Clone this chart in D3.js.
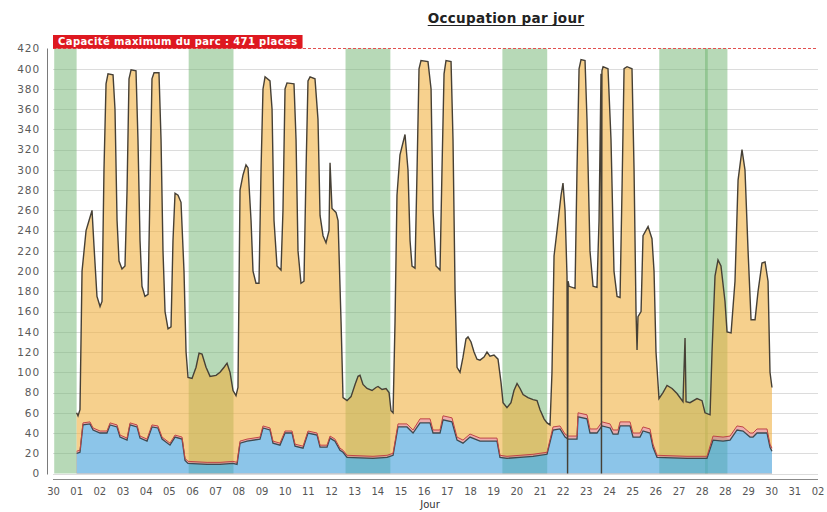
<!DOCTYPE html>
<html><head><meta charset="utf-8">
<script src="https://cdn.jsdelivr.net/npm/d3@7"></script>
<style>body{margin:0;background:#fff}svg{display:block}</style>
</head><body>
<svg id="chart" width="827" height="512"></svg>
<script>
// ---------- data ----------
const title = "Occupation par jour";
const xAxisTitle = "Jour";
const capacity = 471;
const capacityLabel = "Capacité maximum du parc : 471 places";
const xTickLabels = ["30","01","02","03","04","05","06","07","08","09","10","11","12","13","14","15","16","17","18","19","20","21","22","23","24","25","26","27","28","28","29","30","31","02"];
const yTickValues = [0,20,40,60,80,100,120,140,160,180,200,220,240,260,280,300,320,340,360,380,400,420];
const startTime = "2012-09-30T00:00:00+02:00"; // hours below are elapsed hours since this instant

// total occupancy (top of orange area)
const totalHours = [24,25.5,27.6,29.8,34.1,37.3,40.5,42.6,45.8,49.1,51.2,53.3,55.5,57.6,63,65.1,67.3,69.4,72.6,75.8,78,80.1,82.3,87.6,89.7,91.9,94,97.2,100.5,102.6,104.7,106.9,112.2,114.4,116.5,118.7,121.9,125.1,127.2,129.4,132.6,135.8,139,141.2,143.3,147.6,151.9,155.1,158.3,162.6,166.9,173.3,177.6,181.9,185.1,188.3,191.5,194.7,196.8,199,202.2,205.4,207.6,210.8,212.9,216.1,219.3,221.5,223.6,225.8,231.1,233.3,235.4,238.6,242.9,245,247.2,249.3,256.8,259,261.1,264.3,267.5,269.7,271.8,274,279.3,282.5,284.7,287.9,291.1,294.3,295.4,297.5,301.8,304,307.2,309.3,313.6,317.9,322.2,325.4,327.5,330.7,335,340.4,344.6,346.8,351.1,355.4,358.6,360.7,362.9,365,367.1,370.3,375.7,378.9,381.1,383.2,386.4,388.6,390.7,392.8,400.3,403.6,405.7,408.9,413.2,415.3,417.5,419.6,425,427.1,429.3,431.4,434.6,437.8,441,443.2,446.4,449.6,452.8,456,460.3,463.5,466.7,471,475.3,478.5,480.7,484.9,489.2,492.4,495.7,498.9,502.1,507.4,512.8,517.1,520.3,524.6,527.8,531,533.1,535.3,538.5,542.8,544.9,547.1,549.2,549.8,550.4,551.4,557.8,559.9,562.1,564.2,568.5,570.6,573.8,577.1,581.3,583.5,585.6,586.1,586.6,587.8,593.1,596.3,599.5,602.8,606,608.1,610.3,613.5,618.8,621,623.1,624.2,625.2,628.5,630.6,636,640.2,642.4,644.5,647.7,652,656.3,661.7,667,673.4,675.6,676.7,680.9,688.4,693.8,697,702.4,704.5,707.7,710.9,714.1,718.4,720.6,724.9,729.1,732.4,736.6,739.8,743.1,746.3,750.6,753.8,758,761.3,764.5,766.6,768.7];
const totalValues = [60,57,63,200,240,250,260,225,175,165,170,300,385,395,394,360,250,210,202,205,280,390,399,398,330,230,185,175,177,280,390,396,396,330,220,160,143,145,230,277,275,268,200,120,95,94,105,119,118,105,96,97,100,105,109,100,82,77,85,280,295,305,302,250,200,188,188,300,380,392,388,360,250,205,201,260,380,386,385,330,220,188,190,300,388,392,390,350,255,235,228,240,307,262,258,250,150,75,72,76,88,96,97,88,84,82,85,86,83,84,80,62,60,150,275,315,335,300,230,205,203,300,400,408,407,380,260,205,201,300,395,408,407,330,180,105,100,115,133,135,130,120,113,112,115,120,116,117,113,90,70,65,70,82,89,84,78,75,73,72,63,54,50,48,100,215,240,275,287,260,195,0,190,185,183,300,400,409,408,350,220,185,184,250,395,0,398,402,400,330,200,175,174,280,400,402,400,300,160,122,155,160,235,244,232,200,120,74,80,87,84,79,71,134,71,70,74,72,60,58,120,195,211,205,170,140,139,190,290,320,300,220,152,152,180,208,209,190,100,85];

// lower stacked series (blue) and thin middle series (pink), same time grid
const lowerHours = [24,27.6,30.8,38.3,41.6,49.1,56.5,59.8,67.3,70.5,78,81.2,88.7,91.9,99.4,104.7,111.1,115.5,124,129.4,136.9,140.1,143.3,163.7,177.6,191.5,195.8,199,206.5,220.4,223.6,231.1,234.3,241.8,247.2,254.7,257.9,266.5,271.8,281.5,284.7,292.2,295.4,300.7,306.1,309.3,313.6,341.4,356.5,362.9,368.2,377.8,384.3,391.8,402.5,405.7,413.2,416.4,426,431.4,437.8,445.3,456,474.2,477.4,484.9,498.9,512.8,527.8,534.2,541.7,547.1,550.3,559.9,561,570.6,573.8,581.3,586.7,595.3,598.5,603.8,606,616.7,619.9,627.4,630.6,638.1,641.3,645.6,677.7,699.1,705.6,716.3,723.8,731.3,737.7,745.2,748.4,752.7,763.4,766.6,768.7];
const blueValues = [20,21,48,49,43,40,40,48,46,36,33,48,46,35,32,46,45,34,28,36,34,13,10,9,9,10,9,30,32,34,45,43,30,28,40,40,27,25,40,38,26,26,35,32,23,21,16,15,16,18,46,46,40,50,50,40,40,53,51,33,30,36,32,32,16,15,16,17,19,43,44,36,34,34,56,54,40,40,47,45,39,39,47,47,36,36,42,40,26,16,15,15,33,32,33,43,42,36,36,40,40,26,22];
const pinkValues = [2,2,2,2,2,2,2,2,2,2,2,2,2,2,2,2,2,2,2,2,2,2,2,2,2,2,2,2,2,2,2,2,2,2,2,2,2,2,2,2,2,2,2,2,2,2,2,2,2,2,3,3,3,4,4,3,3,4,4,3,3,3,3,3,2,2,2,2,2,3,3,3,3,3,4,4,4,4,4,4,4,4,4,4,4,4,4,4,3,2,2,2,4,4,4,4,4,4,4,4,4,3,3];

// weekend markers
const markerStarts = ["2012-09-30T00:00:00+02:00","2012-10-06T00:00:00+02:00","2012-10-13T00:00:00+02:00","2012-10-20T00:00:00+02:00","2012-10-27T00:00:00+02:00","2012-10-29T00:00:00+01:00"];
const markerEnds   = ["2012-10-01T00:00:00+02:00","2012-10-08T00:00:00+02:00","2012-10-15T00:00:00+02:00","2012-10-22T00:00:00+02:00","2012-10-29T03:00:00+01:00","2012-10-30T00:00:00+01:00"];

// ---------- chart ----------
const t0 = new Date(startTime).getTime();
const toDate = h => new Date(t0 + h * 3600e3);
const svg = d3.select("#chart");
const plot = {left: 53, right: 818, top: 48.5, bottom: 473.5};
const yMax = 420;
const font = "DejaVu Sans, Verdana, sans-serif";

const x = d3.scaleUtc().domain([toDate(-1.3), toDate(818)]).range([plot.left, plot.right]);
const y = d3.scaleLinear().domain([0, yMax]).range([plot.bottom, plot.top]);
const xl = d3.scalePoint().domain(xTickLabels.map((d, i) => i)).range([53.5, 818]);

const total = totalHours.map((h, i) => ({t: toDate(h), v: totalValues[i]}));
const lower = lowerHours.map((h, i) => ({t: toDate(h), b: blueValues[i], p: blueValues[i] + pinkValues[i]}));

// gridlines
svg.append("g").selectAll("line").data(yTickValues.filter(v => v < yMax)).join("line")
  .attr("x1", plot.left).attr("x2", plot.right)
  .attr("y1", d => Math.round(y(d)) + 0.5).attr("y2", d => Math.round(y(d)) + 0.5)
  .attr("stroke", "#dcdcdc").attr("stroke-width", 1);

// weekend bands
svg.append("g").selectAll("rect").data(markerStarts.map((s, i) => [new Date(s), new Date(markerEnds[i])])).join("rect")
  .attr("x", d => x(d[0])).attr("width", d => x(d[1]) - x(d[0]))
  .attr("y", plot.top).attr("height", plot.bottom - plot.top)
  .attr("fill", "rgb(111,179,111)").attr("opacity", 0.5);

// stacked areas (group alpha so layers do not compound)
const gA = svg.append("g").attr("opacity", 0.6);
gA.append("path").datum(total)
  .attr("d", d3.area().x(d => x(d.t)).y0(y(0)).y1(d => y(d.v)))
  .attr("fill", "rgb(241,178,66)");
gA.append("path").datum(lower)
  .attr("d", d3.area().x(d => x(d.t)).y0(y(0)).y1(d => y(d.p)))
  .attr("fill", "rgb(226,120,120)");
gA.append("path").datum(lower)
  .attr("d", d3.area().x(d => x(d.t)).y0(y(0)).y1(d => y(d.b)))
  .attr("fill", "rgb(64,160,220)");

// series outlines
svg.append("path").datum(lower)
  .attr("d", d3.line().x(d => x(d.t)).y(d => y(d.b)))
  .attr("fill", "none").attr("stroke", "#3e4a50").attr("stroke-width", 1.3);
svg.append("path").datum(lower)
  .attr("d", d3.line().x(d => x(d.t)).y(d => y(d.p)))
  .attr("fill", "none").attr("stroke", "rgb(192,70,70)").attr("stroke-width", 1);
svg.append("path").datum(total)
  .attr("d", d3.line().x(d => x(d.t)).y(d => y(d.v)))
  .attr("fill", "none").attr("stroke", "rgb(70,64,54)").attr("stroke-width", 1.4);

// capacity marker
const capY = y(Math.min(capacity, yMax));
svg.append("line").attr("x1", plot.left).attr("x2", plot.right).attr("y1", capY).attr("y2", capY)
  .attr("stroke", "rgb(226,80,80)").attr("stroke-width", 1).attr("stroke-dasharray", "3,2");
const capG = svg.append("g");
const capRect = capG.append("rect").attr("fill", "rgb(222,24,32)");
const capText = capG.append("text").attr("x", 58).attr("y", capY - 3.5)
  .attr("font-family", font).attr("font-size", 10).attr("font-weight", "bold")
  .attr("letter-spacing", 0.4).attr("fill", "#fff").text(capacityLabel);
const cw = capText.node().getComputedTextLength();
capRect.attr("x", plot.left).attr("y", capY - 13.5).attr("width", cw + 10).attr("height", 13.5);

// axes lines
svg.append("line").attr("x1", 47.5).attr("x2", 47.5).attr("y1", plot.top).attr("y2", plot.bottom + 1)
  .attr("stroke", "#7a7a7a");
svg.append("line").attr("x1", plot.left).attr("x2", plot.right).attr("y1", 479.5).attr("y2", 479.5)
  .attr("stroke", "#8a8a8a");

// y tick labels
svg.append("g").selectAll("text").data(yTickValues).join("text")
  .attr("x", 40).attr("y", d => y(d) + 3.8).attr("text-anchor", "end")
  .attr("font-family", font).attr("font-size", 10.5)
  .attr("letter-spacing", 0.9).attr("fill", "#5a5a5a").text(d => d);

// x tick labels
svg.append("g").selectAll("text").data(xTickLabels).join("text")
  .attr("x", (d, i) => xl(i)).attr("y", 495).attr("text-anchor", "middle")
  .attr("font-family", font).attr("font-size", 10)
  .attr("fill", "#555").text(d => d);

// axis title
svg.append("text").attr("x", 430).attr("y", 508).attr("text-anchor", "middle")
  .attr("font-family", font).attr("font-size", 10)
  .attr("fill", "#333").text(xAxisTitle);

// chart title (underlined)
const tt = svg.append("text").attr("x", 506).attr("y", 23).attr("text-anchor", "middle")
  .attr("font-family", font).attr("font-size", 13.5).attr("font-weight", "bold")
  .attr("letter-spacing", 0.3).attr("fill", "#222").text(title);
const tw = tt.node().getComputedTextLength();
svg.append("line").attr("x1", 506 - tw / 2).attr("x2", 506 + tw / 2).attr("y1", 25.5).attr("y2", 25.5)
  .attr("stroke", "#222").attr("stroke-width", 1);
</script>
</body></html>
